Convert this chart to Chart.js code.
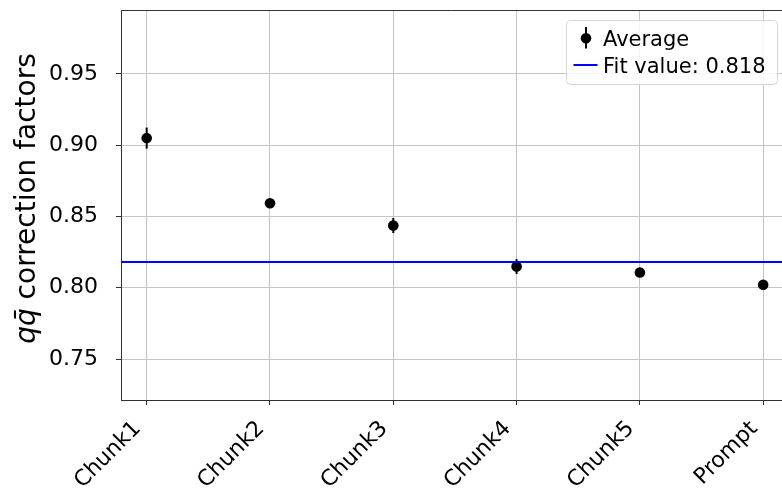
<!DOCTYPE html>
<html><head><meta charset="utf-8">
<script src="https://cdn.jsdelivr.net/npm/chart.js@4.4.1/dist/chart.umd.min.js"></script>
<style>html,body{margin:0;padding:0;background:#fff;overflow:hidden}canvas{display:block}</style>
</head><body>
<canvas id="c" width="782" height="491"></canvas>
<script>
const categories = ['Chunk1', 'Chunk2', 'Chunk3', 'Chunk4', 'Chunk5', 'Prompt'];
const averages = [0.905, 0.8593, 0.8437, 0.8149, 0.8107, 0.8021];
const errors = [0.0074, 0.0025, 0.0053, 0.0052, 0.0025, 0.0025];
const fitValue = 0.818;
const yTicks = [0.75, 0.80, 0.85, 0.90, 0.95];
const legendAverage = 'Average';
const legendFit = 'Fit value: ' + fitValue.toFixed(3);
const yTitleMath = 'qq\u0304';
const yTitleText = ' correction factors';

const X_MIN = -0.2084, X_MAX = 5.1525, Y_MIN = 0.72123, Y_MAX = 0.99491;
const FONT = "'DejaVu Sans', sans-serif";

const errorBars = {
  id: 'errorBars',
  beforeDatasetsDraw(chart) {
    const {ctx, scales: {x, y}} = chart;
    ctx.save();
    ctx.strokeStyle = '#000';
    ctx.lineWidth = 2;
    averages.forEach((v, i) => {
      const px = x.getPixelForValue(i);
      ctx.beginPath();
      ctx.moveTo(px, y.getPixelForValue(v + errors[i]));
      ctx.lineTo(px, y.getPixelForValue(v - errors[i]));
      ctx.stroke();
    });
    ctx.restore();
  }
};

const decorations = {
  id: 'decorations',
  afterDraw(chart) {
    const {ctx, chartArea: a} = chart;
    ctx.save();
    // top spine
    ctx.strokeStyle = '#333';
    ctx.lineWidth = 1;
    ctx.beginPath();
    ctx.moveTo(a.left, Math.round(a.top) + 0.5);
    ctx.lineTo(a.right, Math.round(a.top) + 0.5);
    ctx.stroke();

    // legend
    const bx = 566.5, by = 20.5, bw = 211, bh = 64, r = 4;
    ctx.beginPath();
    ctx.moveTo(bx + r, by);
    ctx.arcTo(bx + bw, by, bx + bw, by + bh, r);
    ctx.arcTo(bx + bw, by + bh, bx, by + bh, r);
    ctx.arcTo(bx, by + bh, bx, by, r);
    ctx.arcTo(bx, by, bx + bw, by, r);
    ctx.closePath();
    ctx.fillStyle = 'rgba(255,255,255,0.85)';
    ctx.fill();
    ctx.strokeStyle = '#d6d6d6';
    ctx.lineWidth = 1;
    ctx.stroke();

    // average marker
    ctx.strokeStyle = '#000';
    ctx.lineWidth = 2;
    ctx.beginPath();
    ctx.moveTo(586, 27);
    ctx.lineTo(586, 48.5);
    ctx.stroke();
    ctx.fillStyle = '#000';
    ctx.beginPath();
    ctx.arc(586, 38.3, 5.3, 0, Math.PI * 2);
    ctx.fill();
    // fit line marker
    ctx.strokeStyle = '#0000ff';
    ctx.beginPath();
    ctx.moveTo(573.5, 65);
    ctx.lineTo(597.5, 65);
    ctx.stroke();

    ctx.fillStyle = '#000';
    ctx.font = '21px ' + FONT;
    ctx.textAlign = 'left';
    ctx.textBaseline = 'alphabetic';
    ctx.fillText(legendAverage, 603, 45.5);
    ctx.fillText(legendFit, 603, 72.5);

    // y title
    const cy = 198.5;
    ctx.font = 'italic 28px ' + FONT;
    const w1 = ctx.measureText(yTitleMath).width;
    ctx.font = '28px ' + FONT;
    const w2 = ctx.measureText(yTitleText).width;
    ctx.translate(35, cy + (w1 + w2) / 2);
    ctx.rotate(-Math.PI / 2);
    ctx.font = 'italic 28px ' + FONT;
    ctx.fillText(yTitleMath, 0, 0);
    ctx.font = '28px ' + FONT;
    ctx.fillText(yTitleText, w1, 0);
    ctx.restore();
  }
};

new Chart(document.getElementById('c'), {
  data: {
    datasets: [
      {
        type: 'line',
        label: legendFit,
        data: [{x: X_MIN, y: fitValue}, {x: X_MAX, y: fitValue}],
        borderColor: '#0000ff',
        borderWidth: 2,
        pointRadius: 0,
        order: 0
      },
      {
        type: 'scatter',
        label: legendAverage,
        data: averages.map((v, i) => ({x: i, y: v})),
        backgroundColor: '#000',
        borderWidth: 0,
        pointRadius: 5.3,
        pointHoverRadius: 5.3,
        order: 1
      }
    ]
  },
  plugins: [errorBars, decorations],
  options: {
    responsive: false,
    animation: false,
    devicePixelRatio: 1,
    layout: {autoPadding: false, padding: {top: 10, left: 0, right: 0, bottom: 0}},
    plugins: {legend: {display: false}, tooltip: {enabled: false}},
    scales: {
      x: {
        type: 'linear',
        min: X_MIN,
        max: X_MAX,
        afterBuildTicks(s) { s.ticks = categories.map((c, i) => ({value: i})); },
        afterFit(s) { s.height = 91; s.paddingLeft = 0; s.paddingRight = 0; },
        ticks: {
          callback: (v) => categories[v],
          autoSkip: false,
          minRotation: 45,
          maxRotation: 45,
          padding: 11,
          labelOffset: -9,
          color: '#000',
          font: {family: FONT, size: 22}
        },
        grid: {color: '#c4c4c4', lineWidth: 1, tickColor: '#333', tickLength: 5, tickWidth: 1},
        border: {color: '#333', width: 1}
      },
      y: {
        type: 'linear',
        min: Y_MIN,
        max: Y_MAX,
        afterBuildTicks(s) { s.ticks = yTicks.map(v => ({value: v})); },
        afterFit(s) { s.width = 121; s.paddingTop = 0; s.paddingBottom = 0; },
        ticks: {
          callback: (v) => v.toFixed(2),
          padding: 18,
          color: '#000',
          font: {family: FONT, size: 22}
        },
        grid: {color: '#c4c4c4', lineWidth: 1, tickColor: '#333', tickLength: 5, tickWidth: 1},
        border: {color: '#333', width: 1}
      }
    }
  }
});
</script>
</body></html>
